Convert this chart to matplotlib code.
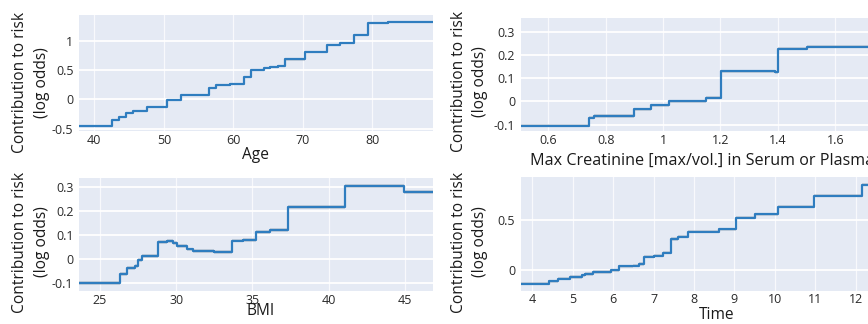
import numpy as np
import matplotlib
matplotlib.use("Agg")
import matplotlib.pyplot as plt

plt.rcParams["font.family"] = ["Open Sans", "DejaVu Sans"]

# step curves (x = start of each step)
age_x = [37.8, 42.6, 43.6, 44.6, 45.6, 47.6, 50.5, 52.5, 56.5, 57.5, 59.5, 61.5, 62.5,
         64.4, 65.3, 66.4, 67.4, 70.3, 73.4, 75.3, 77.3, 79.3, 82.2]
age_y = [-0.46, -0.355, -0.30, -0.23, -0.195, -0.13, -0.01, 0.07, 0.20, 0.245, 0.26, 0.38, 0.51,
         0.545, 0.56, 0.575, 0.685, 0.82, 0.935, 0.97, 1.105, 1.305, 1.325]

crea_x = [0.504, 0.742, 0.76, 0.90, 0.958, 1.02, 1.150, 1.201, 1.39, 1.40, 1.50]
crea_y = [-0.105, -0.07, -0.063, -0.035, -0.017, 0.0, 0.016, 0.13, 0.125, 0.228, 0.236]

bmi_x = [23.6, 26.3, 26.75, 27.3, 27.47, 27.73, 28.78, 29.4, 29.8, 30.03, 30.69, 31.1, 32.5,
         33.64, 34.4, 35.2, 36.15, 37.3, 41.1, 44.95]
bmi_y = [-0.10, -0.063, -0.036, -0.028, -0.005, 0.012, 0.071, 0.075, 0.068, 0.055, 0.04, 0.034, 0.028,
         0.077, 0.081, 0.114, 0.120, 0.217, 0.302, 0.279]

time_x = [3.71, 4.40, 4.64, 4.92, 5.22, 5.30, 5.51, 5.94, 6.15, 6.50, 6.64, 6.77, 7.02, 7.24,
          7.42, 7.61, 7.85, 8.61, 9.03, 9.51, 10.09, 10.96, 12.17]
time_y = [-0.137, -0.113, -0.087, -0.07, -0.053, -0.04, -0.02, -0.003, 0.037, 0.043, 0.06, 0.135,
          0.145, 0.175, 0.31, 0.333, 0.383, 0.408, 0.525, 0.557, 0.635, 0.745, 0.853]

# half-width of the grey uncertainty band
age_ci, crea_ci, bmi_ci, time_ci = 0.018, 0.007, 0.008, 0.016

age_xt = [40, 50, 60, 70, 80]
age_yt = [-0.5, 0, 0.5, 1]
crea_xt = [0.6, 0.8, 1.0, 1.2, 1.4, 1.6, 1.8]
crea_yt = [-0.1, 0, 0.1, 0.2, 0.3]
bmi_xt = [25, 30, 35, 40, 45]
bmi_yt = [-0.1, 0, 0.1, 0.2, 0.3]
time_xt = [4, 5, 6, 7, 8, 9, 10, 11, 12, 13]
time_yt = [0, 0.5]

W, H = 868, 324
BG = "#E5EAF4"
LINE = "#2F7DBF"


def panel(box, xs, ys, ci, xlim, ylim, xt, yt):
    l, t, r, b = box
    ax = fig.add_axes([l / W, 1 - b / H, (r - l) / W, (b - t) / H])
    ax.set_facecolor(BG)
    for s in ax.spines.values():
        s.set_visible(False)
    x = np.append(xs, xlim[1])
    y = np.append(ys, ys[-1])
    ax.fill_between(x, y - ci, y + ci, step="post", color="#9AA3AE", alpha=0.35, lw=0, zorder=2)
    ax.step(x, y, where="post", color=LINE, lw=1.6, zorder=3)
    for v in yt:
        ax.axhline(v, color="white", lw=1.3, zorder=1)
    for v in xt:
        ax.axvline(v, color="white", lw=0.9, alpha=0.75, zorder=1)
    ax.set_xlim(*xlim)
    ax.set_ylim(*ylim)
    ax.set_xticks(xt)
    ax.set_xticklabels([f"{v:g}" for v in xt])
    ax.set_yticks(yt)
    ax.set_yticklabels([f"{v:g}" for v in yt])
    ax.tick_params(length=0, labelsize=9, colors="#2a2a2a")
    ax.tick_params(axis="x", pad=2)
    ax.tick_params(axis="y", pad=4)
    return ax


fig = plt.figure(figsize=(W / 100, H / 100), dpi=100)

panel((79, 15, 433, 131), age_x, age_y, age_ci, (37.8, 88.7), (-0.54, 1.446), age_xt, age_yt)
panel((520.7, 18, 913, 131), crea_x, crea_y, crea_ci, (0.504, 1.871), (-0.128, 0.36), crea_xt, crea_yt)
panel((79, 178.3, 433, 291), bmi_x, bmi_y, bmi_ci, (23.62, 46.84), (-0.132, 0.335), bmi_xt, bmi_yt)
panel((520.7, 177.3, 913, 290.7), time_x, time_y, time_ci, (3.71, 13.42), (-0.207, 0.927), time_xt, time_yt)

ylab = "Contribution to risk\n(log odds)"
lab_kw = dict(fontsize=11.2, color="#1a1a1a")
for cx, cy in [(31, 82.5), (469.5, 81.5), (31, 242), (469.5, 242)]:
    fig.text(cx / W, 1 - cy / H, ylab, rotation=90, ha="center", va="center",
             multialignment="center", linespacing=1.45, **lab_kw)

fig.text(255.5 / W, 1 - 159 / H, "Age", ha="center", va="baseline", **lab_kw)
fig.text(530 / W, 1 - 165 / H, "Max Creatinine [max/vol.] in Serum or Plasma", ha="left", va="baseline",
         fontsize=11.6, color="#1a1a1a")
fig.text(261 / W, 1 - 315 / H, "BMI", ha="center", va="baseline", **lab_kw)
fig.text(717 / W, 1 - 319.3 / H, "Time", ha="center", va="baseline", **lab_kw)

fig.savefig("out.png", dpi=100, facecolor="white")
